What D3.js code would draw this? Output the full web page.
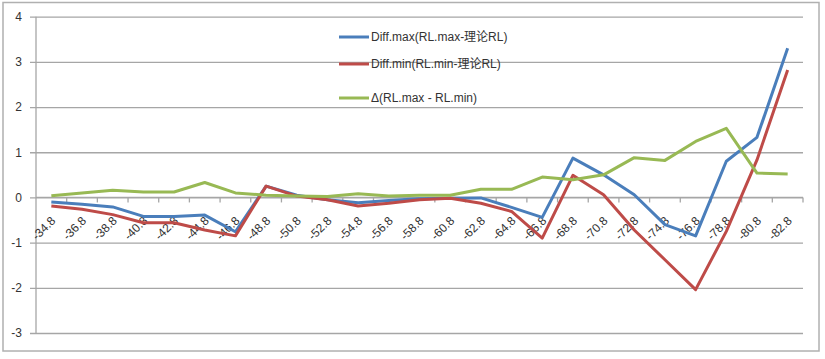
<!DOCTYPE html>
<html><head><meta charset="utf-8">
<script src="https://cdn.jsdelivr.net/npm/d3@7/dist/d3.min.js"></script>
<style>
html,body{margin:0;padding:0;background:#fff;}
svg{display:block;font-family:"Liberation Sans","Noto Sans CJK SC",sans-serif;}
</style></head><body>
<svg id="c" width="825" height="359"></svg>
<script>
const categories = ["-34.8","-36.8","-38.8","-40.8","-42.8","-44.8","-46.8","-48.8","-50.8","-52.8","-54.8","-56.8","-58.8","-60.8","-62.8","-64.8","-66.8","-68.8","-70.8","-72.8","-74.8","-76.8","-78.8","-80.8","-82.8"];
const diffMax = [-0.1,-0.15,-0.21,-0.42,-0.42,-0.39,-0.76,0.25,0.05,-0.05,-0.12,-0.07,-0.03,-0.02,-0.01,-0.22,-0.44,0.87,0.5,0.06,-0.6,-0.85,0.8,1.33,3.3];
const diffMin = [-0.19,-0.26,-0.38,-0.56,-0.56,-0.72,-0.85,0.25,0.03,-0.05,-0.19,-0.13,-0.05,-0.02,-0.13,-0.31,-0.9,0.49,0.06,-0.72,-1.38,-2.04,-0.75,0.83,2.82];
const delta = [0.04,0.1,0.16,0.12,0.12,0.33,0.1,0.05,0.03,0.02,0.08,0.03,0.05,0.05,0.18,0.18,0.45,0.39,0.5,0.88,0.82,1.24,1.53,0.54,0.52];
const yTicks = [-3,-2,-1,0,1,2,3,4];
const seriesNames = ["Diff.max(RL.max-理论RL)","Diff.min(RL.min-理论RL)","Δ(RL.max - RL.min)"];
const seriesColors = ["#4a7ebb","#be4b48","#98b954"];

const svg = d3.select("#c");
const x = d3.scaleBand().domain(categories).range([36, 803]).padding(0);
const y = d3.scaleLinear().domain([-3, 4]).range([333, 16.7]);
const grid = "#a6a6a6";

// outer frame
svg.append("rect").attr("x",3).attr("y",2.5).attr("width",816).attr("height",348.5)
  .attr("fill","#fff").attr("stroke","#b0b0b0").attr("stroke-width",1.5);

// gridlines + y labels
const yAxis = d3.axisLeft(y).tickValues(yTicks).tickSize(-(803-30)).tickFormat(d => String(d)).tickPadding(8);
const gy = svg.append("g").attr("transform","translate(30,0)").call(yAxis);
gy.select(".domain").remove();
gy.selectAll(".tick line").attr("stroke",grid).attr("stroke-width",1.3);
gy.selectAll(".tick text").attr("fill","#333").attr("font-size",12).attr("x",-8);

// y axis line
svg.append("line").attr("x1",36).attr("x2",36).attr("y1",y(4)).attr("y2",y(-3))
  .attr("stroke",grid).attr("stroke-width",1.3);

// x axis at zero with ticks at band boundaries
const gx = svg.append("g").attr("transform",`translate(0,${y(0)})`);
gx.append("line").attr("x1",36).attr("x2",803).attr("stroke",grid).attr("stroke-width",1.3);
const bounds = categories.map(c => x(c)).concat([x(categories[categories.length-1]) + x.bandwidth()]);
gx.selectAll("line.tk").data(bounds.slice(1)).enter().append("line").attr("class","tk")
  .attr("x1",d=>d).attr("x2",d=>d).attr("y1",0).attr("y2",5).attr("stroke",grid).attr("stroke-width",1.3);
gx.selectAll("text").data(categories).enter().append("text")
  .attr("transform",d=>`translate(${x(d)+x.bandwidth()/2+5},${24}) rotate(-45)`)
  .attr("text-anchor","end").attr("font-size",12).attr("fill","#333").text(d=>d);

// lines
const line = d3.line().x((d,i)=>x(categories[i])+x.bandwidth()/2).y(d=>y(d));
[diffMax, diffMin, delta].forEach((s,i)=>{
  svg.append("path").datum(s).attr("d",line).attr("fill","none")
    .attr("stroke",seriesColors[i]).attr("stroke-width",3).attr("stroke-linejoin","round");
});

// legend
const ly = [37, 64, 98];
seriesNames.forEach((n,i)=>{
  svg.append("line").attr("x1",339).attr("x2",369).attr("y1",ly[i]).attr("y2",ly[i])
    .attr("stroke",seriesColors[i]).attr("stroke-width",3);
  svg.append("text").attr("x",371).attr("y",ly[i]+4).attr("font-size",12).attr("fill","#333").text(n);
});
</script>
</body></html>
